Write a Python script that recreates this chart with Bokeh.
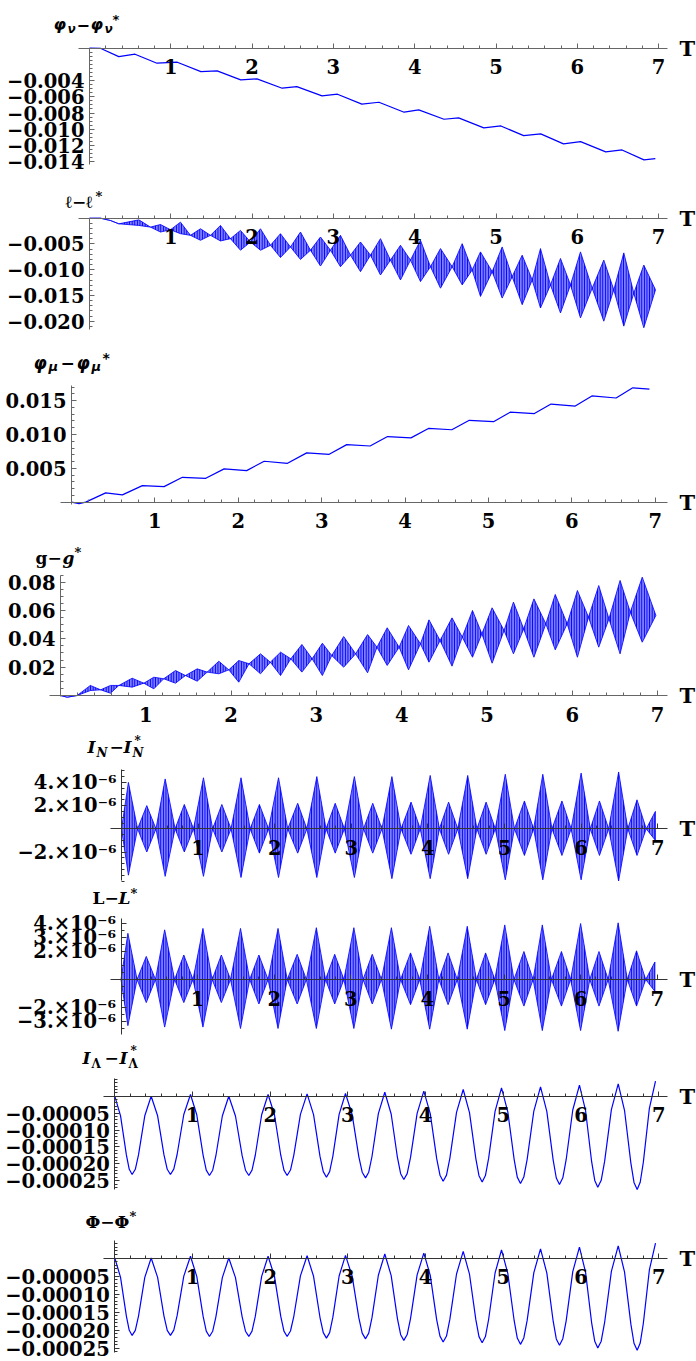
from bokeh.plotting import figure
from bokeh.layouts import column
from bokeh.models import LinearAxis, FixedTicker, Range1d
from bokeh.core.properties import value
from bokeh.embed import file_html
from bokeh.resources import INLINE

# ---------------- data ----------------
T_TICKS = [1, 2, 3, 4, 5, 6, 7]
T_TICK_LABELS = ["1", "2", "3", "4", "5", "6", "7"]

# panel 1: phi_nu - phi_nu*
PHI_NU_T = [0, 0.14, 0.36, 0.56, 0.83, 1.08, 1.37, 1.57, 1.86, 2.06, 2.37, 2.55, 2.86, 3.05,
            3.35, 3.56, 3.87, 4.05, 4.36, 4.54, 4.85, 5.06, 5.34, 5.55, 5.83, 6.04, 6.35, 6.55,
            6.82, 6.96]
PHI_NU_V = [0, -0.00003, -0.00104, -0.00074, -0.00185, -0.00173, -0.00289, -0.0028, -0.00391,
            -0.00379, -0.00494, -0.00474, -0.00589, -0.00568, -0.00691, -0.00667, -0.0079,
            -0.00762, -0.00877, -0.0086, -0.00984, -0.0096, -0.01079, -0.01058, -0.01181,
            -0.01153, -0.0128, -0.01256, -0.01379, -0.01363]
PHI_NU_YTICKS = [-0.014, -0.012, -0.010, -0.008, -0.006, -0.004]
PHI_NU_YLABELS = ["\u22120.014", "\u22120.012", "\u22120.010", "\u22120.008", "\u22120.006", "\u22120.004"]

# panel 2: l - l*  (envelope of the fast oscillation: necks and packet extremes)
ELL_T = [0, 0.135, 0.258, 0.361, 0.607, 0.750, 0.873, 0.996, 1.119, 1.242, 1.365, 1.488, 1.611,
         1.734, 1.857, 1.980, 2.103, 2.226, 2.349, 2.472, 2.595, 2.718, 2.841, 2.964, 3.087,
         3.210, 3.333, 3.456, 3.579, 3.702, 3.825, 3.948, 4.071, 4.194, 4.317, 4.461, 4.584,
         4.707, 4.809, 4.953, 5.076, 5.199, 5.322, 5.445, 5.547, 5.670, 5.793, 5.916, 6.039,
         6.183, 6.326, 6.449, 6.572, 6.695, 6.818, 6.962]
ELL_HI = [0, 0, -0.00045, -0.00109, -0.00032, -0.00173, -0.00122, -0.00224, -0.00077, -0.00333,
          -0.00205, -0.00333, -0.00141, -0.00397, -0.00237, -0.00462, -0.00205, -0.00526,
          -0.00301, -0.00558, -0.00269, -0.00622, -0.00365, -0.00622, -0.00333, -0.00718,
          -0.00462, -0.00718, -0.00397, -0.00814, -0.00526, -0.00814, -0.00429, -0.00942,
          -0.0059, -0.00942, -0.00494, -0.01006, -0.00654, -0.01038, -0.00558, -0.01135,
          -0.00718, -0.01199, -0.0059, -0.01295, -0.00782, -0.01295, -0.00654, -0.01359,
          -0.00814, -0.01391, -0.00673, -0.01455, -0.0091, -0.01391]
ELL_LO = [0, 0, -0.00045, -0.00109, -0.00141, -0.00173, -0.00269, -0.00224, -0.00301, -0.00333,
          -0.00429, -0.00333, -0.00442, -0.00397, -0.00622, -0.00462, -0.00622, -0.00526,
          -0.00763, -0.00558, -0.00801, -0.00622, -0.00929, -0.00622, -0.00942, -0.00718,
          -0.01038, -0.00718, -0.01103, -0.00814, -0.01199, -0.00814, -0.01231, -0.00942,
          -0.01359, -0.00942, -0.01295, -0.01006, -0.01519, -0.01038, -0.01551, -0.01135,
          -0.01679, -0.01199, -0.01744, -0.01295, -0.0184, -0.01295, -0.01936, -0.01359,
          -0.02, -0.01391, -0.02096, -0.01455, -0.02128, -0.01391]
ELL_YTICKS = [-0.020, -0.015, -0.010, -0.005]
ELL_YLABELS = ["\u22120.020", "\u22120.015", "\u22120.010", "\u22120.005"]

# panel 3: phi_mu - phi_mu*
PHI_MU_T = [0, 0.09, 0.17, 0.41, 0.61, 0.85, 1.11, 1.33, 1.61, 1.83, 2.10, 2.31, 2.59, 2.82,
            3.09, 3.30, 3.58, 3.79, 4.07, 4.28, 4.56, 4.77, 5.06, 5.26, 5.55, 5.75, 6.04, 6.24,
            6.53, 6.73, 6.93]
PHI_MU_V = [0, -0.00022, 0, 0.00136, 0.00107, 0.00244, 0.00229, 0.00367, 0.00352, 0.00491,
            0.00466, 0.00604, 0.00574, 0.00728, 0.00707, 0.0085, 0.0083, 0.0097, 0.0095,
            0.0109, 0.0107, 0.0121, 0.0119, 0.0133, 0.0131, 0.0145, 0.0142, 0.0157, 0.0154,
            0.0169, 0.0167]
PHI_MU_YTICKS = [0.005, 0.010, 0.015]
PHI_MU_YLABELS = ["0.005", "0.010", "0.015"]

# panel 4: g - g*
G_T = [0, 0.078, 0.195, 0.35, 0.47, 0.586, 0.684, 0.84, 0.977, 1.094, 1.21, 1.348, 1.465,
       1.602, 1.72, 1.856, 1.973, 2.09, 2.21, 2.345, 2.46, 2.58, 2.70, 2.83, 2.95, 3.07, 3.18,
       3.32, 3.46, 3.60, 3.71, 3.83, 3.97, 4.08, 4.22, 4.32, 4.45, 4.59, 4.71, 4.83, 4.94,
       5.06, 5.20, 5.31, 5.43, 5.55, 5.69, 5.80, 5.94, 6.06, 6.19, 6.31, 6.43, 6.56, 6.68,
       6.82, 6.98]
G_HI = [0, -0.0012, 0, 0.0071, 0.004, 0.0071, 0.0071, 0.0122, 0.0087, 0.0129, 0.0118, 0.0176,
        0.0141, 0.0188, 0.0165, 0.0242, 0.0181, 0.0247, 0.0224, 0.0294, 0.0235, 0.0306, 0.0259,
        0.036, 0.0259, 0.0369, 0.0282, 0.0416, 0.0294, 0.043, 0.0341, 0.0478, 0.0341, 0.0494,
        0.0365, 0.0534, 0.0388, 0.0548, 0.0412, 0.06, 0.0435, 0.0619, 0.0459, 0.0659, 0.047,
        0.0682, 0.0506, 0.0713, 0.0506, 0.0741, 0.0553, 0.0776, 0.0541, 0.0812, 0.0588,
        0.0835, 0.0565]
G_LO = [0, -0.0012, 0, 0.0035, 0.004, 0.0016, 0.0071, 0.0059, 0.0087, 0.0047, 0.0118, 0.0087,
        0.0141, 0.0101, 0.0165, 0.0153, 0.0181, 0.0094, 0.0224, 0.0153, 0.0235, 0.0141, 0.0259,
        0.0165, 0.0259, 0.0141, 0.0282, 0.02, 0.0294, 0.016, 0.0341, 0.0212, 0.0341, 0.0181,
        0.0365, 0.0235, 0.0388, 0.0207, 0.0412, 0.027, 0.0435, 0.0228, 0.0459, 0.0294, 0.047,
        0.027, 0.0506, 0.0322, 0.0506, 0.027, 0.0553, 0.0341, 0.0541, 0.0294, 0.0588, 0.0376,
        0.0565]
G_YTICKS = [0.02, 0.04, 0.06, 0.08]
G_YLABELS = ["0.02", "0.04", "0.06", "0.08"]

# panels 5 and 6: I_N - I_N*, L - L*  (envelopes, in units of 1e-6)
IN_T = [0, 0.09, 0.21, 0.33, 0.45, 0.57, 0.70, 0.82, 0.94, 1.07, 1.19, 1.31, 1.43, 1.56, 1.68,
        1.80, 1.92, 2.05, 2.17, 2.30, 2.42, 2.55, 2.67, 2.79, 2.91, 3.04, 3.16, 3.28, 3.40,
        3.53, 3.65, 3.78, 3.90, 4.03, 4.15, 4.27, 4.39, 4.52, 4.64, 4.76, 4.88, 5.01, 5.13,
        5.26, 5.38, 5.50, 5.62, 5.75, 5.87, 6.00, 6.12, 6.24, 6.36, 6.49, 6.61, 6.73, 6.85, 6.97]
IN_HI_MICRO = [0, 4.0, 0, 2.0, 0, 4.3, 0, 2.1, 0, 4.4, 0, 2.1, 0, 4.4, 0, 2.1, 0, 4.4, 0, 2.2, 0,
               4.5, 0, 2.2, 0, 4.5, 0, 2.2, 0, 4.5, 0, 2.3, 0, 4.6, 0, 2.3, 0, 4.6, 0, 2.3, 0,
               4.7, 0, 2.4, 0, 4.7, 0, 2.4, 0, 4.8, 0, 2.4, 0, 4.9, 0, 2.5, 0, 1.5]
IN_LO_MICRO = [0, -4.0, 0, -2.0, 0, -4.1, 0, -2.0, 0, -4.1, 0, -2.0, 0, -4.2, 0, -2.1, 0, -4.2,
               0, -2.1, 0, -4.2, 0, -2.1, 0, -4.2, 0, -2.1, 0, -4.3, 0, -2.2, 0, -4.3, 0, -2.2,
               0, -4.3, 0, -2.2, 0, -4.4, 0, -2.3, 0, -4.4, 0, -2.3, 0, -4.4, 0, -2.3, 0, -4.5,
               0, -2.3, 0, -1.0]
IN_YTICKS = [-2e-6, 2e-6, 4e-6]
IN_YLABELS = ["\u22122.\u00d710\u207b\u2076", "2.\u00d710\u207b\u2076", "4.\u00d710\u207b\u2076"]

LL_T = IN_T
LL_HI_MICRO = [0, 3.3, 0, 1.65, 0, 3.55, 0, 1.75, 0, 3.65, 0, 1.75, 0, 3.65, 0, 1.75, 0, 3.65,
               0, 1.8, 0, 3.7, 0, 1.8, 0, 3.7, 0, 1.8, 0, 3.7, 0, 1.9, 0, 3.8, 0, 1.9, 0, 3.8,
               0, 1.9, 0, 3.9, 0, 2.0, 0, 3.9, 0, 2.0, 0, 4.0, 0, 2.0, 0, 4.05, 0, 2.05, 0, 1.25]
LL_LO_MICRO = [0, -3.3, 0, -1.65, 0, -3.4, 0, -1.65, 0, -3.4, 0, -1.65, 0, -3.5, 0, -1.75, 0,
               -3.5, 0, -1.75, 0, -3.5, 0, -1.75, 0, -3.5, 0, -1.75, 0, -3.55, 0, -1.8, 0,
               -3.55, 0, -1.8, 0, -3.55, 0, -1.8, 0, -3.65, 0, -1.9, 0, -3.65, 0, -1.9, 0,
               -3.65, 0, -1.9, 0, -3.7, 0, -1.9, 0, -0.85]
LL_YTICKS = [-3e-6, -2e-6, 2e-6, 3e-6, 4e-6]
LL_YLABELS = ["\u22123.\u00d710\u207b\u2076", "\u22122.\u00d710\u207b\u2076",
              "2.\u00d710\u207b\u2076", "3.\u00d710\u207b\u2076", "4.\u00d710\u207b\u2076"]

# panels 7 and 8: I_Lambda - I_Lambda*, Phi - Phi*  (units of 1e-6)
LAM_T = [0.000,
         0.074, 0.149, 0.186, 0.223, 0.264, 0.305, 0.386, 0.468,
         0.551, 0.633, 0.675, 0.716, 0.759, 0.802, 0.888, 0.974,
         1.055, 1.137, 1.177, 1.218, 1.260, 1.301, 1.384, 1.467,
         1.553, 1.639, 1.682, 1.725, 1.766, 1.808, 1.890, 1.973,
         2.055, 2.136, 2.177, 2.218, 2.261, 2.304, 2.389, 2.475,
         2.558, 2.641, 2.683, 2.724, 2.765, 2.806, 2.887, 2.969,
         3.055, 3.141, 3.184, 3.227, 3.268, 3.310, 3.392, 3.475,
         3.557, 3.638, 3.679, 3.720, 3.763, 3.806, 3.891, 3.977,
         4.060, 4.143, 4.185, 4.226, 4.269, 4.312, 4.398, 4.484,
         4.565, 4.647, 4.687, 4.728, 4.770, 4.811, 4.894, 4.977,
         5.058, 5.140, 5.180, 5.221, 5.264, 5.307, 5.393, 5.479,
         5.560, 5.642, 5.682, 5.723, 5.766, 5.809, 5.894, 5.980,
         6.059, 6.137, 6.177, 6.216, 6.260, 6.304, 6.391, 6.479,
         6.560, 6.642, 6.682, 6.723, 6.762, 6.802, 6.880, 6.959]
ILAM_V_MICRO = [0,
                -58.0, -173.7, -216.3, -231.7, -216.3, -173.7, -58.0, 0,
                -58.0, -173.7, -216.3, -231.7, -215.7, -172.5, -54.2, 5.0,
                -55.0, -174.9, -218.7, -234.6, -219.0, -176.1, -58.6, 0,
                -58.6, -176.1, -219.0, -234.6, -218.7, -174.7, -54.9, 5.0,
                -54.9, -174.7, -218.7, -234.6, -218.4, -174.3, -53.6, 6.8,
                -54.7, -178.1, -223.1, -239.7, -223.1, -177.8, -53.9, 8.0,
                -54.4, -179.3, -224.9, -241.7, -224.8, -178.4, -51.5, 11.8,
                -52.7, -182.0, -229.3, -246.5, -229.0, -181.1, -50.6, 14.8,
                -51.8, -184.9, -233.8, -251.5, -233.5, -183.8, -47.9, 19.8,
                -48.5, -185.2, -235.2, -253.6, -234.9, -184.0, -45.0, 24.6,
                -46.2, -187.6, -239.4, -258.3, -239.1, -186.9, -43.9, 27.5,
                -44.7, -189.1, -242.0, -261.3, -241.5, -187.9, -40.8, 32.5,
                -42.9, -193.8, -249.1, -269.3, -248.9, -192.9, -39.9, 36.4,
                -41.7, -198.0, -255.1, -276.1, -254.5, -195.9, -35.8, 44.4]
PHI_V_MICRO = [0,
               -53.7, -160.8, -200.3, -214.5, -200.3, -160.8, -53.7, 0,
               -53.7, -160.8, -200.3, -214.5, -199.7, -159.7, -50.1, 4.7,
               -51.0, -161.9, -202.5, -217.3, -202.8, -163.0, -54.3, 0,
               -54.3, -163.0, -202.8, -217.3, -202.5, -161.8, -50.8, 4.7,
               -50.8, -161.8, -202.5, -217.3, -202.2, -161.4, -49.6, 6.3,
               -50.7, -164.9, -206.6, -221.9, -206.6, -164.7, -49.9, 7.4,
               -50.4, -166.0, -208.2, -223.9, -208.1, -165.2, -47.7, 11.0,
               -48.8, -168.5, -212.4, -228.2, -212.1, -167.7, -46.9, 13.7,
               -48.0, -171.3, -216.5, -232.9, -216.2, -170.2, -44.4, 18.4,
               -44.9, -171.5, -217.8, -234.8, -217.6, -170.4, -41.6, 22.7,
               -42.7, -173.7, -221.7, -239.2, -221.4, -173.0, -40.7, 25.5,
               -41.4, -175.1, -224.1, -241.9, -223.6, -174.0, -37.8, 30.1,
               -39.7, -179.5, -230.7, -249.3, -230.4, -178.6, -37.0, 33.7,
               -38.6, -183.3, -236.2, -255.6, -235.6, -181.4, -33.2, 41.1]
LAM_YTICKS = [-0.00025, -0.0002, -0.00015, -0.0001, -0.00005]
LAM_YLABELS = ["\u22120.00025", "\u22120.00020", "\u22120.00015", "\u22120.00010", "\u22120.00005"]

MICRO = 1e-6
IN_HI = [v * MICRO for v in IN_HI_MICRO]
IN_LO = [v * MICRO for v in IN_LO_MICRO]
LL_HI = [v * MICRO for v in LL_HI_MICRO]
LL_LO = [v * MICRO for v in LL_LO_MICRO]
ILAM_V = [v * MICRO for v in ILAM_V_MICRO]
PHI_V = [v * MICRO for v in PHI_V_MICRO]

for a, b in [(ELL_T, ELL_HI), (ELL_T, ELL_LO), (G_T, G_HI), (G_T, G_LO), (IN_T, IN_HI),
             (IN_T, IN_LO), (LL_T, LL_HI), (LL_T, LL_LO), (LAM_T, ILAM_V), (LAM_T, PHI_V),
             (PHI_NU_T, PHI_NU_V), (PHI_MU_T, PHI_MU_V)]:
    assert len(a) == len(b), (len(a), len(b))

# ---------------- layout / style ----------------
W = 696
BLUE = "#0000ff"
SERIF = "DejaVu Serif"
SANS = "DejaVu Sans"
LABEL_SIZE = "19.5px"


def minors(lo, hi, step):
    n = int(round((hi - lo) / step))
    return [round(lo + i * step, 9) for i in range(n + 1)]


X_MINOR = [round(i * 0.2, 6) for i in range(1, 36) if i % 5]

# positions below are in page pixels (the page starts at the top-left corner)
PANELS = [
    dict(top=0, bot=178, x0=89, px=81.3, y0=47.7, py=8100, yb=(-0.0143, 0.0), ax="#666666",
         yt=PHI_NU_YTICKS, yl=PHI_NU_YLABELS, ym=minors(-0.014, 0.0, 0.0005),
         title=[("\u03c6", 53, 24, 16, "bold italic", SANS), ("\u03bd", 67, 28, 12, "bold italic", SANS),
                ("\u2212", 76, 24, 16, "bold", SANS), ("\u03c6", 90, 24, 16, "bold italic", SANS),
                ("\u03bd", 104, 28, 12, "bold italic", SANS), ("*", 112, 19, 13, "bold", SANS)]),
    dict(top=178, bot=340, x0=89, px=81.3, y0=217.7, py=5150, yb=(-0.0216, 0.0), ax="#666666",
         yt=ELL_YTICKS, yl=ELL_YLABELS, ym=minors(-0.021, 0.0, 0.001),
         title=[("\u2113\u2212\u2113", 65, 201, 17, "bold", SERIF), ("*", 95, 196, 13, "bold", SERIF)]),
    dict(top=340, bot=541, x0=71, px=83.4, y0=501.6, py=6760, yb=(-0.0003, 0.0173), ax="#666666",
         yt=PHI_MU_YTICKS, yl=PHI_MU_YLABELS, ym=minors(0.0, 0.017, 0.001),
         title=[("\u03c6", 33, 362, 17, "bold italic", SANS), ("\u03bc", 48, 366, 13, "bold italic", SANS),
                ("\u2212", 60, 362, 17, "bold", SANS), ("\u03c6", 76, 362, 17, "bold italic", SANS),
                ("\u03bc", 91, 366, 13, "bold italic", SANS), ("*", 102, 357, 14, "bold", SANS)]),
    dict(top=541, bot=734, x0=60, px=85.3, y0=695, py=1417, yb=(-0.0008, 0.0847), ax="#666666",
         yt=G_YTICKS, yl=G_YLABELS, ym=minors(0.0, 0.085, 0.005),
         title=[("g\u2212", 35, 557, 17, "bold", SERIF), ("g", 62, 557, 17, "bold italic", SERIF),
                ("*", 74, 552, 13, "bold", SERIF)]),
    dict(top=734, bot=885, x0=121, px=76.6, y0=828.3, py=11.6e6, yb=(-4.45e-6, 5.15e-6), ax="#333333",
         yt=IN_YTICKS, yl=IN_YLABELS, ym=minors(-4.5e-6, 5.0e-6, 0.5e-6),
         title=[("I", 87, 746, 17, "bold italic", SERIF), ("N", 96, 752, 12, "bold italic", SERIF),
                ("\u2212", 109, 746, 17, "bold", SERIF), ("I", 123, 746, 17, "bold italic", SERIF),
                ("N", 132, 752, 12, "bold italic", SERIF), ("*", 134, 740, 12, "bold", SERIF)]),
    dict(top=885, bot=1040, x0=120.5, px=76.6, y0=979, py=14.0e6, yb=(-3.9e-6, 4.35e-6), ax="#333333",
         yt=LL_YTICKS, yl=LL_YLABELS, ym=minors(-3.5e-6, 4.0e-6, 0.5e-6),
         title=[("L\u2212", 92, 897, 17, "bold", SERIF), ("L", 118, 897, 17, "bold italic", SERIF),
                ("*", 130, 893, 13, "bold", SERIF)]),
    dict(top=1040, bot=1196, x0=114.3, px=77.7, y0=1095.7, py=338000, yb=(-0.000277, 0.000052),
         ax="#333333", yt=LAM_YTICKS, yl=LAM_YLABELS, ym=minors(-0.00027, 0.00005, 0.00001),
         title=[("I", 82, 1057, 17, "bold italic", SERIF), ("\u039b", 91, 1063, 12, "bold", SERIF),
                ("\u2212", 104, 1057, 17, "bold", SERIF), ("I", 119, 1057, 17, "bold italic", SERIF),
                ("\u039b", 128, 1063, 12, "bold", SERIF), ("*", 130, 1050, 12, "bold", SERIF)]),
    dict(top=1196, bot=1361, x0=114.3, px=77.7, y0=1257.5, py=361000, yb=(-0.000262, 0.000048),
         ax="#333333", yt=LAM_YTICKS, yl=LAM_YLABELS, ym=minors(-0.00026, 0.00004, 0.00001),
         title=[("\u03a6\u2212\u03a6", 85, 1221, 17, "bold", SERIF), ("*", 129, 1216, 13, "bold", SERIF)]),
]


def make_panel(s):
    H = s["bot"] - s["top"]
    fx = lambda X: (X - s["x0"]) / s["px"]
    fy = lambda Y: (s["y0"] - Y) / s["py"]
    p = figure(width=W, height=H, x_range=Range1d(fx(0), fx(W)),
               y_range=Range1d(fy(s["bot"]), fy(s["top"])),
               x_axis_type=None, y_axis_type=None, toolbar_location=None,
               output_backend="svg", min_border=0, outline_line_color=None)
    p.background_fill_color = "white"
    p.border_fill_color = "white"

    xa = LinearAxis(fixed_location=0, bounds=(fx(s["x0"] - 11), fx(667)),
                    ticker=FixedTicker(ticks=T_TICKS, minor_ticks=X_MINOR))
    xa.major_label_overrides = dict(zip(T_TICKS, T_TICK_LABELS))
    xa.major_label_standoff = 11
    ya = LinearAxis(fixed_location=0, bounds=s["yb"],
                    ticker=FixedTicker(ticks=s["yt"], minor_ticks=s["ym"]))
    ya.major_label_overrides = dict(zip(s["yt"], s["yl"]))
    ya.major_label_standoff = 5
    for ax in (xa, ya):
        ax.axis_line_color = s["ax"]
        ax.axis_line_width = 1
        ax.major_tick_line_color = s["ax"]
        ax.minor_tick_line_color = s["ax"]
        ax.major_tick_in = 5
        ax.major_tick_out = 0
        ax.minor_tick_in = 3
        ax.minor_tick_out = 0
        ax.major_label_text_font = SERIF
        ax.major_label_text_font_style = "bold"
        ax.major_label_text_font_size = LABEL_SIZE
        ax.major_label_text_color = "black"
    p.add_layout(xa, "below")
    p.add_layout(ya, "left")

    p.text(x=[fx(679)], y=[0], text=["T"], text_font=value(SERIF), text_font_style="bold",
           text_font_size="21px", text_baseline="middle", text_align="left", text_color="black")
    for txt, X, Y, size, style, font in s["title"]:
        p.text(x=[fx(X)], y=[fy(Y)], text=[txt], text_font=value(font), text_font_style=style,
               text_font_size=f"{size}px", text_baseline="middle", text_align="left",
               text_color="black")
    return p


def envelope(p, t, hi, lo):
    xs = list(t) + list(t)[::-1]
    ys = list(hi) + list(lo)[::-1]
    p.patch(xs, ys, fill_color=BLUE, fill_alpha=0.5, line_color=BLUE, line_width=0.8,
            hatch_pattern="vertical_line", hatch_color=BLUE, hatch_scale=2.6,
            hatch_weight=1.2, hatch_alpha=1.0)


figs = [make_panel(s) for s in PANELS]
figs[0].line(PHI_NU_T, PHI_NU_V, line_color=BLUE, line_width=1.2)
envelope(figs[1], ELL_T, ELL_HI, ELL_LO)
figs[2].line(PHI_MU_T, PHI_MU_V, line_color=BLUE, line_width=1.2)
envelope(figs[3], G_T, G_HI, G_LO)
envelope(figs[4], IN_T, IN_HI, IN_LO)
envelope(figs[5], LL_T, LL_HI, LL_LO)
figs[6].line(LAM_T, ILAM_V, line_color=BLUE, line_width=1.2)
figs[7].line(LAM_T, PHI_V, line_color=BLUE, line_width=1.2)

layout = column(*figs, spacing=0)
open("out.html", "w").write(file_html(layout, INLINE))
